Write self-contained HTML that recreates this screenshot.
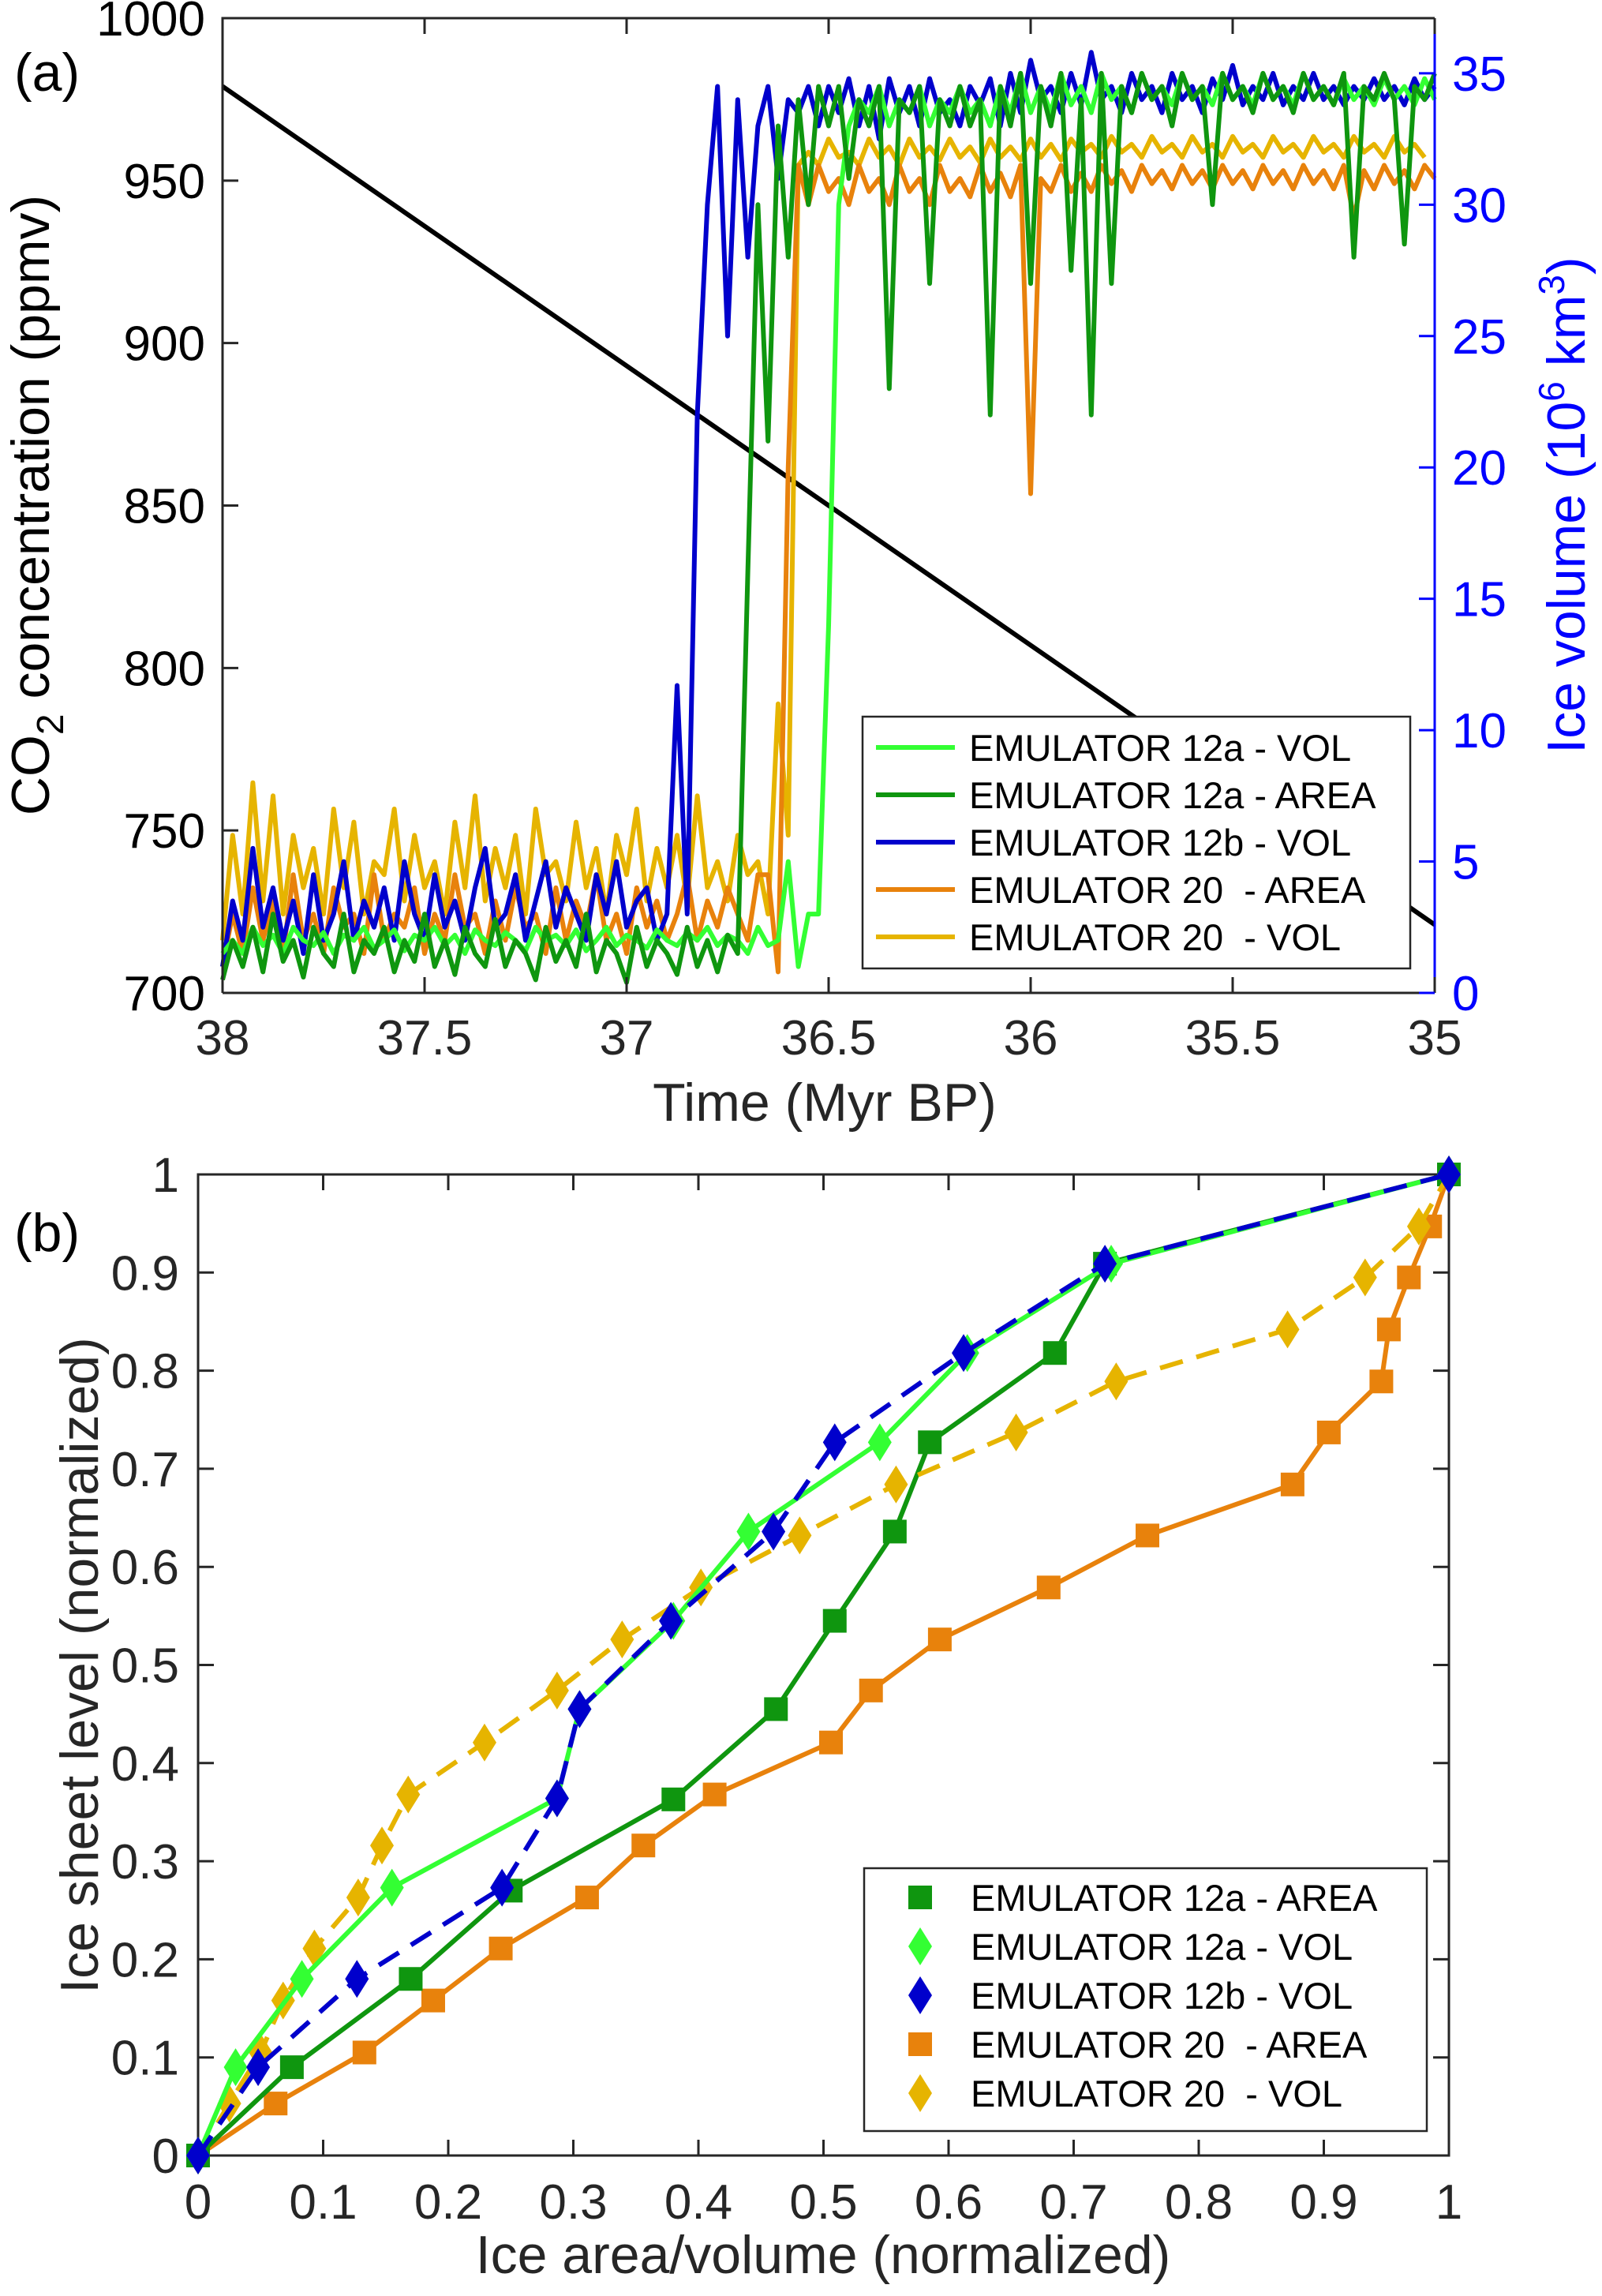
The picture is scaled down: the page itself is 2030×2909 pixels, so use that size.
<!DOCTYPE html>
<html><head><meta charset="utf-8"><style>
html,body{margin:0;padding:0;background:#fff}
svg{display:block;font-family:"Liberation Sans",Arial,sans-serif}
</style></head><body>
<svg id="fig" width="2030" height="2909" viewBox="0 0 2030 2909" xmlns="http://www.w3.org/2000/svg">
<rect width="2030" height="2909" fill="#fff"/>
<g id="pa"></g>
<g id="pb"></g>
</svg>
<script>
// ---------- Panel (a) data ----------
const aT0 = 38, aStep = 0.025; // time of index 0 and step (Myr BP)
const co2Start = 979, co2End = 721;
const volBlue12b = [1,3.5,2,5.5,2.5,4,2,3.5,1.5,4.5,2,3,5,2,3.5,2.5,4,2,5,3,2,4.5,2.5,3.5,2,4,5.5,2.5,3,4.5,2,3.5,5,2.5,4,3,2,4.5,3,5,2.5,3.5,4,2,3,11.7,3,22,30,34.5,25,34,28,33,34.5,31,34,33.5,34.5,33,34.5,33.5,34.8,33,34.5,32.5,34.8,33.5,34.5,33,34.8,33.5,34,33,34.5,33.8,34.8,33,35,33.5,35.5,34,34.5,33.5,35,33.8,35.8,34,34.5,33.5,35,34,34.5,33.5,35,34,34.5,33.5,34.8,34,35.3,33.8,34.5,34,35,33.8,34.5,34,35,34,34.5,33.8,34.5,34,34.8,34,34.5,33.8,34.8,34,34.5];
const volGreen12aArea = [0.5,2,1,2.5,0.8,3,1.2,2,0.6,2.5,1.5,1,3,0.8,2,1.5,2.5,0.8,2,1.2,3,1,2,0.7,2.5,1.5,1,2.8,1,2,1.5,0.5,2.5,1.2,2,1,3,0.8,2,1.5,0.4,2.5,1,2,1.5,0.7,2.5,1,2,0.8,2.2,1.5,16,30,21,33,28,34,30,34.5,33,34.5,31,34,33,34.5,23,34,33.5,34.5,27,34,33,34.5,33,34,22,34.5,33,35,27,34.5,33,35,27.5,34,22,35,27,34.5,33.5,35,34,34.5,33,35,34,34.5,30,35,34,34.5,33.5,35,34,34.5,33.5,35,34,34.5,33.8,35,28,34.5,34,35,34,28.5,34.5,34,35];
const volLime12aVol = [1.5,2,1.5,2.5,1.8,2.2,1.5,2.5,2,1.8,2.3,1.5,2.2,2,2.5,1.7,2,2.4,1.6,2.2,2,2.5,1.8,2.2,1.5,2.4,2,1.8,2.3,2,1.6,2.5,2,2.2,1.8,2.4,1.6,2,2.5,1.8,2.2,2,1.7,2.4,2,1.8,2.3,2,2.5,1.8,2.2,2,1.5,2.5,1.8,2,5,1,3,3,14,30,33,34,33.5,34.5,33,34,33.5,34.5,33,34,33.5,34.5,33.5,34,33,34.5,33.5,35,33.5,34.5,33.5,35,33.8,34.5,33.5,35,34,34.5,33.5,35,34,34.5,33.8,35,34,34.5,33.8,35,34,34.5,33.8,35,34,34.5,33.8,35,34,34.5,33.8,34.8,34,34.5,33.8,34.8,34,34.5,33.8,34.8,34];
const volOrange20Area = [1,3,1.5,4,2,3.5,1.5,4.5,2,3,1.5,4,2.5,3,1.5,4.5,2,3,2.5,4,1.5,3,2,4.5,2.5,3,1.5,3.5,2,4,2.5,3,1.5,4,2,3.5,2.5,4.5,2,3,1.5,4,2.5,3.5,2,3,4.5,2,3.5,2.5,4,3,2,4.5,4.5,0.8,20,31.5,30,31.5,30.5,31,30,31.5,30.5,31,30,31.5,30.5,31,30,31.5,30.5,31,30.3,31.5,30.5,31.2,30.3,31.5,19,31,30.5,31.5,30.5,31.2,30.5,31.5,30.8,31.3,30.5,31.5,30.8,31.3,30.6,31.5,30.8,31.3,30.6,31.5,30.8,31.3,30.6,31.5,30.8,31.3,30.6,31.5,30.8,31.3,30.6,31.5,29.5,31.3,30.6,31.5,30.8,31.3,30.6,31.5,31];
const volYellow20Vol = [2,6,3,8,3.5,7.5,3,6,4,5.5,3,7,4,6.5,3,5,4.5,7,3.5,6,4,5,3,6.5,4,7.5,3.5,5.5,4,6,3,7,4.5,5,3.5,6.5,4,5.5,3,6,4.5,7,3.5,5.5,4,6,3.5,7.5,4,5,3.5,6,4.5,5,3,11,6,31.5,32,31.5,32.5,31.8,32,31.5,32.5,31.8,32.2,31.5,32.5,31.8,32.2,31.7,32.5,31.8,32.2,31.6,32.5,31.8,32.2,31.7,32.5,31.8,32.3,31.7,32.5,32,32.3,31.8,32.6,32,32.3,31.8,32.6,32,32.3,31.8,32.6,32,32.3,31.8,32.6,32,32.3,31.8,32.6,32,32.3,31.8,32.6,32,32.3,31.8,32.6,32,32.3,31.8,32.6,32,32.3,31.8];
const aXTicks = [38,37.5,37,36.5,36,35.5,35];
const aXTickLabels = ["38","37.5","37","36.5","36","35.5","35"];
const aYTicks = [700,750,800,850,900,950,1000];
const aY2Ticks = [0,5,10,15,20,25,30,35];

// ---------- Panel (b) data ----------
const b12aAreaX = [0,0.075,0.17,0.25,0.38,0.462,0.509,0.557,0.585,0.685,0.725,1];
const b12aAreaY = [0,0.09,0.18,0.27,0.363,0.455,0.545,0.636,0.727,0.818,0.909,1];
const b12aVolX = [0,0.03,0.083,0.155,0.287,0.305,0.38,0.44,0.545,0.615,0.73,1];
const b12aVolY = [0,0.09,0.18,0.273,0.364,0.455,0.545,0.636,0.727,0.818,0.909,1];
const b12bVolX = [0,0.048,0.127,0.243,0.287,0.305,0.378,0.46,0.509,0.612,0.725,1];
const b12bVolY = [0,0.09,0.18,0.273,0.364,0.455,0.545,0.636,0.727,0.818,0.909,1];
const b20AreaX = [0,0.062,0.133,0.188,0.242,0.311,0.356,0.413,0.506,0.538,0.593,0.68,0.759,0.875,0.904,0.946,0.952,0.968,0.985,1];
const b20AreaY = [0,0.053,0.105,0.158,0.211,0.263,0.316,0.368,0.421,0.474,0.526,0.579,0.632,0.684,0.737,0.789,0.842,0.895,0.947,1];
const b20VolX = [0,0.025,0.05,0.068,0.093,0.128,0.147,0.168,0.229,0.287,0.339,0.402,0.481,0.558,0.654,0.734,0.871,0.933,0.976,1];
const b20VolY = [0,0.053,0.105,0.158,0.211,0.263,0.316,0.368,0.421,0.474,0.526,0.579,0.632,0.684,0.737,0.789,0.842,0.895,0.947,1];
const bTicks = [0,0.1,0.2,0.3,0.4,0.5,0.6,0.7,0.8,0.9,1];
const bTickLabels = ["0","0.1","0.2","0.3","0.4","0.5","0.6","0.7","0.8","0.9","1"];

const NS = "http://www.w3.org/2000/svg";
function mk(parent, tag, attrs, text){
  const e = document.createElementNS(NS, tag);
  for (const k in attrs) e.setAttribute(k, attrs[k]);
  if (text !== undefined) e.textContent = text;
  parent.appendChild(e); return e;
}
const C = {lime:"#33ff33", green:"#0f960f", blue:"#0000cc", orange:"#e8820c", yellow:"#e6b400"};

// ===== Panel a =====
const pa = document.getElementById('pa');
const AL=282, AR=1818, AT=23, AB=1258;
const ax = t => AL + (aT0 - t) / 3 * (AR - AL);
const ay = c => AB - (c - 700) / 300 * (AB - AT);
const VOLMAX = 37.1;
const ayv = v => AB - v / VOLMAX * (AB - AT);
const tOf = i => aT0 - i * aStep;

let e;
e = mk(pa,'line',{x1:ax(38),y1:ay(co2Start),x2:ax(35),y2:ay(co2End),stroke:"#000","stroke-width":6});
 

function series(arr, color, name){
  const pts = arr.map((v,i)=>ax(tOf(i)).toFixed(1)+","+ayv(v).toFixed(1)).join(" ");
  const p = mk(pa,'polyline',{points:pts,fill:"none",stroke:color,"stroke-width":6,"stroke-linejoin":"round"});
  
  
}
series(volYellow20Vol, C.yellow, 'series-emulator-20-vol');
series(volOrange20Area, C.orange, 'series-emulator-20-area');
series(volBlue12b, C.blue, 'series-emulator-12b-vol');
series(volLime12aVol, C.lime, 'series-emulator-12a-vol');
series(volGreen12aArea, C.green, 'series-emulator-12a-area');

// axes frame
e = mk(pa,'path',{d:`M${AL},${AB} L${AL},${AT} L${AR},${AT}`,fill:"none",stroke:"#262626","stroke-width":3});
 
e = mk(pa,'line',{x1:AL,y1:AB,x2:AR,y2:AB,stroke:"#262626","stroke-width":3});
 
e = mk(pa,'line',{x1:AR,y1:AT,x2:AR,y2:AB,stroke:"#0000ff","stroke-width":3});
 
aXTicks.forEach((t,i)=>{
  mk(pa,'line',{x1:ax(t),y1:AB,x2:ax(t),y2:AB-20,stroke:"#262626","stroke-width":3});
  mk(pa,'line',{x1:ax(t),y1:AT,x2:ax(t),y2:AT+20,stroke:"#262626","stroke-width":3});
  const l = mk(pa,'text',{x:ax(t),y:AB+78,"font-size":62,"text-anchor":"middle",fill:"#262626"},aXTickLabels[i]);
   
});
aYTicks.forEach(c=>{
  mk(pa,'line',{x1:AL,y1:ay(c),x2:AL+20,y2:ay(c),stroke:"#262626","stroke-width":3});
  const l = mk(pa,'text',{x:AL-22,y:ay(c)+22,"font-size":62,"text-anchor":"end",fill:"#000"},String(c));
   
});
aY2Ticks.forEach(v=>{
  mk(pa,'line',{x1:AR,y1:ayv(v),x2:AR-20,y2:ayv(v),stroke:"#0000ff","stroke-width":3});
  const l = mk(pa,'text',{x:AR+22,y:ayv(v)+22,"font-size":62,"text-anchor":"start",fill:"#0000ff"},String(v));
   
});
e = mk(pa,'text',{x:1045,y:1420,"font-size":68,"text-anchor":"middle",fill:"#262626"},"Time (Myr BP)");
 
e = mk(pa,'text',{transform:"translate(62,640) rotate(-90)","font-size":68,"text-anchor":"middle",fill:"#000"});
 
e.innerHTML = 'CO<tspan dy="18" font-size="48">2</tspan><tspan dy="-18"> concentration (ppmv)</tspan>';
e = mk(pa,'text',{transform:"translate(2008,640) rotate(-90)","font-size":68,"text-anchor":"middle",fill:"#0000ff"});
 
e.innerHTML = 'Ice volume (10<tspan dy="-26" font-size="46">6</tspan><tspan dy="26"> km</tspan><tspan dy="-26" font-size="46">3</tspan><tspan dy="26">)</tspan>';
e = mk(pa,'text',{x:18,y:115,"font-size":68,fill:"#000"},"(a)");
 

// legend a
const lgA = mk(pa,'g',{});
 
mk(lgA,'rect',{x:1093,y:908,width:694,height:319,fill:"#fff",stroke:"#262626","stroke-width":2.5});
const legA = [["EMULATOR 12a - VOL",C.lime],["EMULATOR 12a - AREA",C.green],["EMULATOR 12b - VOL",C.blue],["EMULATOR 20  - AREA",C.orange],["EMULATOR 20  - VOL",C.yellow]];
legA.forEach((d,i)=>{
  const y = 947 + i*60;
  const g = mk(lgA,'g',{});
   
  mk(g,'line',{x1:1110,y1:y,x2:1210,y2:y,stroke:d[1],"stroke-width":6});
  mk(g,'text',{x:1228,y:y+17,"font-size":47,fill:"#000","xml:space":"preserve"},d[0]).style.whiteSpace="pre";
});

// ===== Panel b =====
const pb = document.getElementById('pb');
const BL=251, BR=1836, BT=1488, BB=2731;
const bx = v => BL + v*(BR-BL);
const by = v => BB - v*(BB-BT);
e = mk(pb,'rect',{x:BL,y:BT,width:BR-BL,height:BB-BT,fill:"none",stroke:"#262626","stroke-width":3});
 
bTicks.forEach((t,i)=>{
  mk(pb,'line',{x1:bx(t),y1:BB,x2:bx(t),y2:BB-20,stroke:"#262626","stroke-width":3});
  mk(pb,'line',{x1:bx(t),y1:BT,x2:bx(t),y2:BT+20,stroke:"#262626","stroke-width":3});
  mk(pb,'line',{x1:BL,y1:by(t),x2:BL+20,y2:by(t),stroke:"#262626","stroke-width":3});
  mk(pb,'line',{x1:BR,y1:by(t),x2:BR-20,y2:by(t),stroke:"#262626","stroke-width":3});
  let l = mk(pb,'text',{x:bx(t),y:BB+80,"font-size":62,"text-anchor":"middle",fill:"#262626"},bTickLabels[i]);
   
  l = mk(pb,'text',{x:BL-24,y:by(t)+22,"font-size":62,"text-anchor":"end",fill:"#262626"},bTickLabels[i]);
   
});
e = mk(pb,'text',{x:1043,y:2880,"font-size":68,"text-anchor":"middle",fill:"#262626"},"Ice area/volume (normalized)");
 
e = mk(pb,'text',{transform:"translate(124,2110) rotate(-90)","font-size":68,"text-anchor":"middle",fill:"#262626"},"Ice sheet level (normalized)");
 
e = mk(pb,'text',{x:18,y:1585,"font-size":68,fill:"#000"},"(b)");
 

function marker(g, kind, x, y, color){
  if (kind==='sq') return mk(g,'rect',{x:x-15,y:y-15,width:30,height:30,fill:color});
  return mk(g,'polygon',{points:`${x},${y-24} ${x+15},${y} ${x},${y+24} ${x-15},${y}`,fill:color});
}
function bSeries(X, Y, color, kind, dashed, name){
  const g = mk(pb,'g',{});
  
  
  const pts = X.map((x,i)=>bx(x).toFixed(1)+","+by(Y[i]).toFixed(1)).join(" ");
  const a = {points:pts,fill:"none",stroke:color,"stroke-width":6,"stroke-linejoin":"round"};
  if (dashed) a["stroke-dasharray"]="30,18";
  mk(g,'polyline',a);
  X.forEach((x,i)=>{
    const m = marker(g, kind, bx(x), by(Y[i]), color);
    
    
  });
}
bSeries(b20AreaX,b20AreaY,C.orange,'sq',false,'series-b-emulator-20-area');
bSeries(b12aAreaX,b12aAreaY,C.green,'sq',false,'series-b-emulator-12a-area');
bSeries(b20VolX,b20VolY,C.yellow,'di',true,'series-b-emulator-20-vol');
bSeries(b12aVolX,b12aVolY,C.lime,'di',false,'series-b-emulator-12a-vol');
bSeries(b12bVolX,b12bVolY,C.blue,'di',true,'series-b-emulator-12b-vol');

const lgB = mk(pb,'g',{});
 
mk(lgB,'rect',{x:1095,y:2367,width:713,height:333,fill:"#fff",stroke:"#262626","stroke-width":2.5});
const legB = [["EMULATOR 12a - AREA",C.green,'sq'],["EMULATOR 12a - VOL",C.lime,'di'],["EMULATOR 12b - VOL",C.blue,'di'],["EMULATOR 20  - AREA",C.orange,'sq'],["EMULATOR 20  - VOL",C.yellow,'di']];
legB.forEach((d,i)=>{
  const y = 2404 + i*62;
  const g = mk(lgB,'g',{});
   
  marker(g, d[2], 1166, y, d[1]);
  mk(g,'text',{x:1230,y:y+17,"font-size":47,fill:"#000"},d[0]).style.whiteSpace="pre";
});
</script>
</body></html>
